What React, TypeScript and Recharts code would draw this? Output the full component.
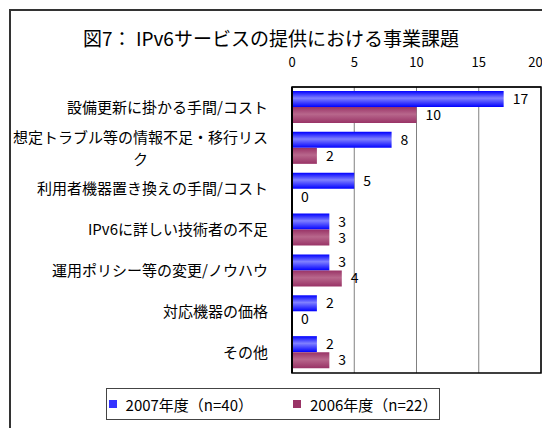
import React from "react";
import {
  BarChart,
  Bar,
  XAxis,
  YAxis,
  CartesianGrid,
  LabelList,
  ReferenceArea,
} from "recharts";

const categories = [
  "設備更新に掛かる手間/コスト",
  "想定トラブル等の情報不足・移行リスク",
  "利用者機器置き換えの手間/コスト",
  "IPv6に詳しい技術者の不足",
  "運用ポリシー等の変更/ノウハウ",
  "対応機器の価格",
  "その他",
];
const values2007 = [17, 8, 5, 3, 3, 2, 2];
const values2006 = [10, 2, 0, 3, 4, 0, 3];
const xTicks = [0, 5, 10, 15, 20];
const seriesNames = ["2007年度（n=40）", "2006年度（n=22）"];

const FONT = '"Noto Sans CJK JP", "Noto Sans", sans-serif';

const chartData = categories.map((name, i) => ({
  name,
  y2007: values2007[i],
  y2006: values2006[i],
}));

const CategoryTick = (props: any) => {
  const { x, y, payload } = props;
  const text: string = payload.value;
  const lines = text.length > 17 ? [text.slice(0, 17), text.slice(17)] : [text];
  const lh = 22;
  const startY = y - ((lines.length - 1) * lh) / 2;
  return (
    <g>
      {lines.map((l, i) => (
        <text
          key={i}
          x={i === 0 ? x - 16 : x - 16 - (17 * 15) / 2}
          y={startY + i * lh}
          dy="0.35em"
          textAnchor={i === 0 ? "end" : "middle"}
          fontSize={15}
          fill="#000"
          fontFamily={FONT}
        >
          {l}
        </text>
      ))}
    </g>
  );
};

const LegendBox = () => (
  <div
    style={{
      position: "absolute",
      left: 106,
      top: 388,
      width: 332,
      height: 30,
      border: "1px solid #444",
      display: "flex",
      alignItems: "center",
      justifyContent: "center",
      gap: 40,
      fontFamily: FONT,
      fontSize: 15,
      color: "#000",
      background: "#fff",
    }}
  >
    {seriesNames.map((n, i) => (
      <span key={n} style={{ display: "flex", alignItems: "center" }}>
        <span
          style={{
            width: 8,
            height: 8,
            background: i === 0 ? "#3333ff" : "#993366",
            marginRight: 9,
            display: "inline-block",
          }}
        />
        {n}
      </span>
    ))}
  </div>
);

export default function App() {
  return (
    <div
      style={{
        position: "absolute",
        left: 0,
        top: 0,
        width: 542,
        height: 428,
        background: "#fff",
        overflow: "hidden",
        fontFamily: FONT,
      }}
    >
      <div
        style={{
          position: "absolute",
          left: 9,
          top: 9,
          width: 600,
          height: 500,
          borderLeft: "2px solid #333",
          borderTop: "2px solid #333",
        }}
      />
      <div
        style={{
          position: "absolute",
          left: 0,
          width: 542,
          top: 24,
          textAlign: "center",
          fontSize: 19,
          color: "#000",
        }}
      >
        図7： IPv6サービスの提供における事業課題
      </div>
      <div style={{ position: "absolute", left: 0, top: 0 }}>
        <BarChart
          width={542}
          height={428}
          data={chartData}
          layout="vertical"
          margin={{ top: 57, right: 1, bottom: 55, left: 0 }}
          barCategoryGap={4}
          barGap={0}
        >
          <defs>
            <linearGradient id="gBlue" x1="0" y1="0" x2="0" y2="1">
              <stop offset="0%" stopColor="#0000ff" />
              <stop offset="45%" stopColor="#8080ff" />
              <stop offset="100%" stopColor="#0000ff" />
            </linearGradient>
            <linearGradient id="gRed" x1="0" y1="0" x2="0" y2="1">
              <stop offset="0%" stopColor="#993366" />
              <stop offset="45%" stopColor="#b8678c" />
              <stop offset="100%" stopColor="#993366" />
            </linearGradient>
          </defs>
          <CartesianGrid horizontal={false} vertical stroke="#808080" />
          <XAxis
            type="number"
            orientation="top"
            domain={[0, 20]}
            ticks={xTicks}
            height={30}
            tickSize={0}
            tickMargin={20}
            axisLine={{ stroke: "#000" }}
            tick={{ fontSize: 13, fill: "#000", fontFamily: FONT }}
          />
          <YAxis
            type="category"
            dataKey="name"
            width={292}
            tickLine={false}
            axisLine={{ stroke: "#000", strokeWidth: 2 }}
            tick={<CategoryTick />}
            interval={0}
          />
          <ReferenceArea
            x1={0}
            x2={20}
            fill="none"
            stroke="#000"
            strokeWidth={1.5}
            ifOverflow="visible"
          />
          <Bar
            dataKey="y2007"
            name={seriesNames[0]}
            fill="url(#gBlue)"
            minPointSize={0.01}
            isAnimationActive={false}
          >
            <LabelList
              dataKey="y2007"
              position="right"
              offset={9}
              fontSize={14}
              fill="#000"
              fontFamily={FONT}
            />
          </Bar>
          <Bar
            dataKey="y2006"
            name={seriesNames[1]}
            fill="url(#gRed)"
            minPointSize={0.01}
            isAnimationActive={false}
          >
            <LabelList
              dataKey="y2006"
              position="right"
              offset={9}
              fontSize={14}
              fill="#000"
              fontFamily={FONT}
            />
          </Bar>
        </BarChart>
      </div>
      <LegendBox />
    </div>
  );
}
